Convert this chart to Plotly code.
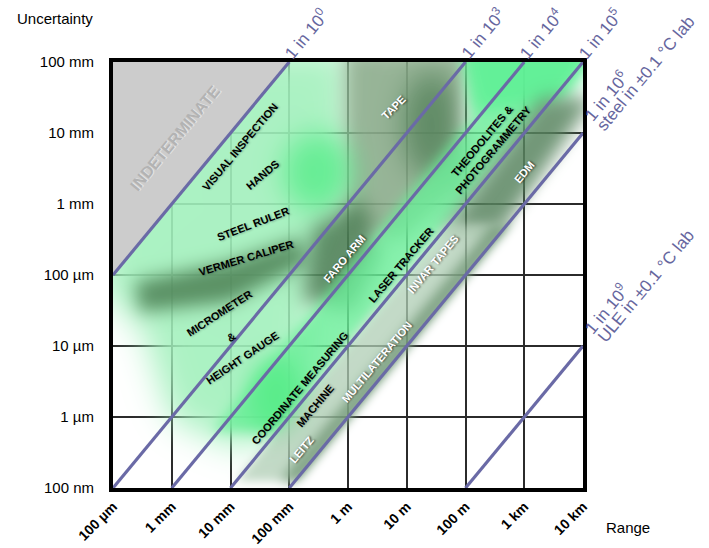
import base64
import struct
import zlib

import numpy as np
import plotly.graph_objects as go

# ---------------------------------------------------------------------------
# Axes: everything is in log10(metres)
# ---------------------------------------------------------------------------
range_ticks = [-4, -3, -2, -1, 0, 1, 2, 3, 4]
range_labels = ["100 µm", "1 mm", "10 mm", "100 mm", "1 m", "10 m", "100 m", "1 km", "10 km"]
unc_ticks = [-7, -6, -5, -4, -3, -2, -1]
unc_labels = ["100 nm", "1 µm", "10 µm", "100 µm", "1 mm", "10 mm", "100 mm"]

# Fractional uncertainty guides: uncertainty = range / 10**n
ratio_exponents = [0, 3, 4, 5, 6, 9]
ratio_notes = {6: "steel in ±0.1 °C lab", 9: "ULE in ±0.1 °C lab"}

# ---------------------------------------------------------------------------
# Capability regions of measuring techniques, (log10 range, log10 uncertainty)
# ---------------------------------------------------------------------------
region_polygons = {
    "hand tools": [(-4.22, -0.83), (0.03, -0.83), (0.0, -2.94), (-0.51, -4.07),
                   (-0.73, -6.0), (-1.84, -6.45), (-3.0, -6.05), (-3.5, -4.75),
                   (-4.22, -4.2)],
    "tape": [(-0.05, -0.83), (2.08, -0.83), (1.87, -1.82), (2.11, -2.66),
             (0.89, -3.51), (-0.05, -3.37)],
    "vernier caliper": [(-3.63, -4.10), (-2.01, -3.82), (-0.82, -3.48), (-0.68, -3.82),
                        (-2.01, -4.38), (-3.54, -4.52)],
    "faro arm": [(-0.61, -3.34), (0.24, -2.94), (0.58, -3.68), (0.07, -4.52), (-0.77, -4.35)],
    "laser tracker": [(1.95, -0.8), (4.2, -0.8), (-1.2, -6.2), (-2.3, -6.2), (2.1, -1.8)],
    "theodolites": [(1.95, -0.8), (4.3, -0.8), (3.7, -1.55), (2.2, -1.7)],
    "edm": [(3.3, -1.5), (4.2, -1.5), (2.6, -3.4), (1.6, -3.4)],
    "invar tapes": [(1.7, -3.3), (2.8, -3.3), (-0.8, -6.9), (-1.9, -6.9)],
    "multilateration": [(2.45, -3.3), (2.8, -3.3), (-0.8, -6.9), (-1.15, -6.9)],
}
# (centre range, centre uncertainty, half width in decades, half height in decades)
region_ellipses = {
    "hands": (-0.51, -2.55, 0.6, 0.55),
    "tape core": (1.43, -1.89, 0.5, 0.75),
    "cmm": (-1.22, -5.72, 0.45, 0.55),
}

# Paint order and look of each region: (rgb, opacity, blur in px)
region_style = {
    "hand tools": ((162, 240, 188), 0.9, 16),
    "tape": ((140, 172, 140), 0.9, 9),
    "tape core": ((78, 125, 85), 0.75, 14),
    "hands": ((90, 236, 140), 0.85, 14),
    "vernier caliper": ((78, 130, 86), 0.88, 9),
    "faro arm": ((72, 122, 80), 0.85, 10),
    "laser tracker": ((105, 238, 152), 0.8, 6),
    "theodolites": ((95, 240, 150), 0.9, 8),
    "cmm": ((85, 236, 135), 0.85, 12),
    "edm": ((88, 132, 95), 0.85, 9),
    "invar tapes": ((175, 205, 180), 0.75, 5),
    "multilateration": ((100, 140, 105), 0.75, 6),
}

# Technique captions: (text, range, uncertainty, angle, colour)
captions = [
    ("VISUAL INSPECTION", -1.84, -2.20, 50, "black"),
    ("HANDS", -1.46, -2.59, 40, "black"),
    ("STEEL RULER", -1.62, -3.28, 21, "black"),
    ("VERMER CALIPER", -1.74, -3.76, 17, "black"),
    ("MICROMETER", -2.18, -4.54, 33, "black"),
    ("&", -1.99, -4.87, 33, "black"),
    ("HEIGHT GAUGE", -1.80, -5.17, 34, "black"),
    ("COORDINATE MEASURING", -0.82, -5.59, 50, "black"),
    ("MACHINE", -0.56, -5.85, 50, "black"),
    ("LEITZ", -0.80, -6.46, 50, "white"),
    ("MULTILATERATION", 0.49, -5.23, 50, "white"),
    ("INVAR TAPES", 1.45, -3.85, 50, "white"),
    ("LASER TRACKER", 0.90, -3.86, 50, "black"),
    ("FARO ARM", -0.07, -3.77, 50, "white"),
    ("TAPE", 0.78, -1.63, 45, "white"),
    ("THEODOLITES &<br>PHOTOGRAMMETRY", 2.38, -2.17, 50, "black"),
    ("EDM", 3.0, -2.55, 50, "white"),
]

X_RANGE = (-4.0, 4.0)
Y_RANGE = (-7.0, -1.0)
PLOT_W, PLOT_H = 470, 426
MARGIN = dict(l=113, r=126, t=62, b=60)
GUIDE_COLOR = "#6a6aa6"
NOTE_COLOR = "#66669e"


# ---------------------------------------------------------------------------
# Soft shaded background raster
# ---------------------------------------------------------------------------
def inside_polygon(px, py, poly):
    inside = np.zeros(px.shape, dtype=bool)
    n = len(poly)
    for i in range(n):
        x1, y1 = poly[i]
        x2, y2 = poly[(i + 1) % n]
        if y1 == y2:
            continue
        crosses = (y1 > py) != (y2 > py)
        xint = x1 + (py - y1) * (x2 - x1) / (y2 - y1)
        inside ^= crosses & (px < xint)
    return inside


def gaussian_blur(a, sigma):
    h, w = a.shape
    H, W = 2 * h, 2 * w
    fy = np.fft.fftfreq(H)[:, None]
    fx = np.fft.rfftfreq(W)[None, :]
    kernel = np.exp(-2.0 * np.pi ** 2 * sigma ** 2 * (fx ** 2 + fy ** 2))
    out = np.fft.irfft2(np.fft.rfft2(a, s=(H, W)) * kernel, s=(H, W))[:h, :w]
    return np.clip(out, 0.0, 1.0)


pad = 48
dx = (X_RANGE[1] - X_RANGE[0]) / PLOT_W
dy = (Y_RANGE[1] - Y_RANGE[0]) / PLOT_H
gx = X_RANGE[0] + (np.arange(-pad, PLOT_W + pad) + 0.5) * dx
gy = Y_RANGE[0] + (np.arange(-pad, PLOT_H + pad) + 0.5) * dy
LX, LY = np.meshgrid(gx, gy)  # row 0 = lowest uncertainty

prem = np.zeros(LX.shape + (3,))
alpha = np.zeros(LX.shape)
for name, (rgb, opacity, blur) in region_style.items():
    if name in region_polygons:
        mask = inside_polygon(LX, LY, region_polygons[name]).astype(float)
    else:
        cx, cy, rx, ry = region_ellipses[name]
        mask = (((LX - cx) / rx) ** 2 + ((LY - cy) / ry) ** 2 <= 1.0).astype(float)
    a = gaussian_blur(mask, blur) * opacity
    prem = prem * (1 - a)[..., None] + np.array(rgb, float)[None, None, :] * a[..., None]
    alpha = a + alpha * (1 - a)

# Nothing is achievable below the 1 in 10^6 guide: fade out as a shadow
px_per_dec_x = PLOT_W / (X_RANGE[1] - X_RANGE[0])
px_per_dec_y = PLOT_H / (Y_RANGE[1] - Y_RANGE[0])
perp = px_per_dec_x * px_per_dec_y / np.hypot(px_per_dec_x, px_per_dec_y)
below = ((LX - 6) - LY) * perp
fade = np.where(below > 0, np.clip(1 - below / 16.0, 0, 1) ** 1.4, 1.0)
prem *= fade[..., None]
alpha *= fade

colour = np.where(alpha[..., None] > 1e-6, prem / np.maximum(alpha, 1e-6)[..., None], 255)
rgba = np.concatenate([colour, alpha[..., None] * 255], axis=2)
rgba = np.clip(np.round(rgba), 0, 255).astype(np.uint8)
rgba = rgba[pad:pad + PLOT_H, pad:pad + PLOT_W]


def png_uri(img):
    h, w, _ = img.shape
    raw = b"".join(b"\x00" + img[i].tobytes() for i in range(h))

    def chunk(tag, data):
        body = tag + data
        return struct.pack(">I", len(data)) + body + struct.pack(">I", zlib.crc32(body) & 0xFFFFFFFF)

    png = (b"\x89PNG\r\n\x1a\n"
           + chunk(b"IHDR", struct.pack(">IIBBBBB", w, h, 8, 6, 0, 0, 0))
           + chunk(b"IDAT", zlib.compress(raw, 9))
           + chunk(b"IEND", b""))
    return "data:image/png;base64," + base64.b64encode(png).decode()


fig = go.Figure()
fig.add_trace(go.Image(source=png_uri(rgba), x0=X_RANGE[0] + dx / 2, dx=dx,
                       y0=Y_RANGE[1] - dy / 2, dy=-dy, hoverinfo="skip"))

# Indeterminate zone: uncertainty larger than the range itself
fig.add_trace(go.Scatter(x=[X_RANGE[0], X_RANGE[0], Y_RANGE[1], X_RANGE[0]],
                         y=[X_RANGE[0], Y_RANGE[1], Y_RANGE[1], X_RANGE[0]],
                         mode="lines", fill="toself", fillcolor="#cccccc",
                         line=dict(width=0), hoverinfo="skip"))

# Guide lines of constant relative uncertainty
for n in ratio_exponents:
    x_start = max(X_RANGE[0], Y_RANGE[0] + n)
    x_end = min(X_RANGE[1], Y_RANGE[1] + n)
    fig.add_trace(go.Scatter(x=[x_start, x_end], y=[x_start - n, x_end - n], mode="lines",
                             line=dict(color=GUIDE_COLOR, width=3.2), hoverinfo="skip"))

angle = np.degrees(np.arctan2(px_per_dec_y, px_per_dec_x))
ca, sa = np.cos(np.radians(angle)), np.sin(np.radians(angle))
note_font = dict(family="Liberation Sans, Arial, sans-serif", size=17, color=NOTE_COLOR)


def shifted(along, across):
    # offsets along the guide direction and across it (positive = down-right)
    return dict(xshift=along * ca + across * sa, yshift=along * sa - across * ca)


annotations = []
for n in ratio_exponents:
    x_end = min(X_RANGE[1], Y_RANGE[1] + n)
    y_end = x_end - n
    head = f"1 in 10<sup>{n}</sup>"
    if n in ratio_notes:
        annotations.append(dict(x=x_end, y=y_end, text=head, showarrow=False,
                                textangle=-angle, font=note_font, **shifted(44, -6)))
        annotations.append(dict(x=x_end, y=y_end, text=ratio_notes[n], showarrow=False,
                                textangle=-angle, font=note_font, **shifted(86, 10)))
    else:
        annotations.append(dict(x=x_end, y=y_end, text=head, showarrow=False,
                                textangle=-angle, font=note_font, **shifted(33, -5)))

annotations.append(dict(x=-2.93, y=-2.07, text="INDETERMINATE", showarrow=False, textangle=-angle,
                        font=dict(family="Liberation Sans, Arial, sans-serif", size=16,
                                  color="#b3b3b3", weight="bold",
                                  shadow="1px 1px 0px #e4e4e4")))

for text, cx, cy, ang, col in captions:
    shadow = "1px 1px 2px rgba(0,0,0,0.65)" if col == "white" else "1px 1px 2px rgba(0,0,0,0.25)"
    annotations.append(dict(x=cx, y=cy, text=text, showarrow=False, textangle=-ang,
                            font=dict(family="Liberation Sans, Arial, sans-serif", size=11,
                                      color=col, weight="bold", shadow=shadow)))

annotations.append(dict(xref="paper", yref="paper", x=-98 / PLOT_W, y=1 + 44 / PLOT_H,
                        xanchor="left", yanchor="middle", text="Uncertainty", showarrow=False,
                        font=dict(family="Liberation Sans, Arial, sans-serif", size=15, color="black")))
annotations.append(dict(xref="paper", yref="paper", x=1 + 21 / PLOT_W, y=-39 / PLOT_H,
                        xanchor="left", yanchor="middle", text="Range", showarrow=False,
                        font=dict(family="Liberation Sans, Arial, sans-serif", size=15, color="black")))

fig.update_layout(
    width=709, height=548, margin=MARGIN,
    paper_bgcolor="white", plot_bgcolor="white", showlegend=False,
    font=dict(family="Liberation Sans, Arial, sans-serif", color="black"),
    annotations=annotations,
)
axis_common = dict(showgrid=True, gridcolor="#2b2b2b", gridwidth=1.5, showline=True,
                   linecolor="black", linewidth=4, mirror=True, zeroline=False, ticks="",
                   automargin=False, scaleanchor=False)
fig.update_xaxes(range=list(X_RANGE), autorange=False, tickvals=range_ticks, ticktext=range_labels,
                 tickangle=-45, tickfont=dict(size=14, weight="bold"), ticklabelstandoff=1,
                 **axis_common)
fig.update_yaxes(range=list(Y_RANGE), autorange=False, tickvals=unc_ticks, ticktext=unc_labels,
                 tickfont=dict(size=15), ticklabelstandoff=12, **axis_common)

fig.write_html("out.html")
